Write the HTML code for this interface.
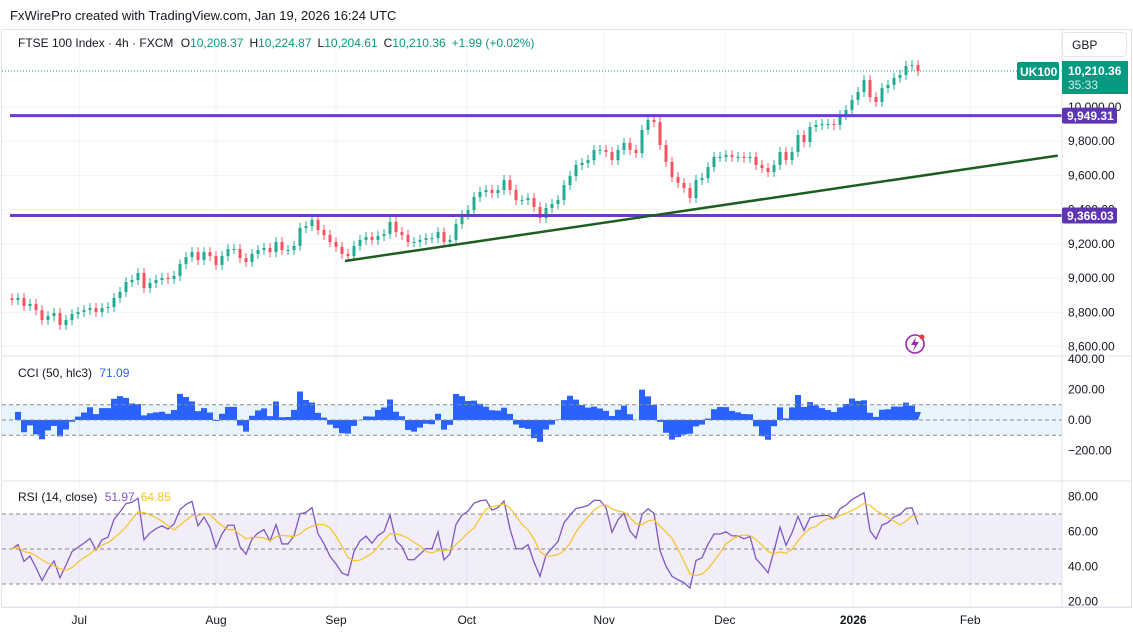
<!DOCTYPE html>
<html><head><meta charset="utf-8">
<style>
html,body{margin:0;padding:0;background:#fff;}
body{width:1133px;height:635px;overflow:hidden;font-family:"Liberation Sans",sans-serif;}
svg text{font-family:"Liberation Sans",sans-serif;}
</style></head>
<body>
<svg id="chart" width="1133" height="635" xmlns="http://www.w3.org/2000/svg">
  <text x="10" y="20" font-size="13" fill="#131722">FxWirePro created with TradingView.com, Jan 19, 2026 16:24 UTC</text>
  <rect x="1.5" y="29.5" width="1130" height="578" fill="none" stroke="#e0e3eb"/>
  <g id="grid"></g>
  <g id="main"></g>
  <g id="cci"></g>
  <g id="rsi"></g>
  <g id="axes"></g>
  <text x="18" y="47" font-size="12" fill="#131722">FTSE 100 Index · 4h · FXCM <tspan dx="4">O</tspan><tspan fill="#089981">10,208.37</tspan><tspan dx="6">H</tspan><tspan fill="#089981">10,224.87</tspan><tspan dx="6">L</tspan><tspan fill="#089981">10,204.61</tspan><tspan dx="6">C</tspan><tspan fill="#089981">10,210.36</tspan><tspan dx="6" fill="#089981">+1.99 (+0.02%)</tspan></text>
  <text x="18" y="377" font-size="12" fill="#131722">CCI (50, hlc3) <tspan dx="4" fill="#2962ff">71.09</tspan></text>
  <text x="18" y="501" font-size="12" fill="#131722">RSI (14, close) <tspan dx="4" fill="#7e57c2">51.97</tspan><tspan dx="6" fill="#f7c325">64.85</tspan></text>
  <rect x="1062.5" y="32.5" width="64" height="24" rx="4" fill="#fff" stroke="#e0e3eb"/>
  <text x="1072" y="49" font-size="12" fill="#131722">GBP</text>
  <g>
    <circle cx="915" cy="344" r="9" fill="none" stroke="#9c27b0" stroke-width="1.6"/>
    <path d="M916 337 L911 345 L915 345 L913 351 L919 342 L915 342 Z" fill="#9c27b0"/>
    <circle cx="922" cy="337" r="2.5" fill="#f23645"/>
  </g>
</svg>
<script>
var closes=[8872,8884,8837,8849,8813,8755,8778,8796,8726,8755,8790,8802,8813,8825,8802,8825,8831,8884,8919,8977,8989,9030,8942,8971,8989,9001,8995,9012,9082,9123,9152,9106,9152,9129,9077,9129,9170,9170,9117,9094,9141,9164,9176,9152,9211,9164,9164,9188,9293,9304,9340,9281,9252,9211,9182,9141,9129,9188,9223,9240,9223,9246,9258,9328,9269,9252,9211,9211,9223,9234,9234,9269,9211,9223,9316,9369,9398,9474,9503,9515,9497,9515,9573,9515,9456,9456,9468,9416,9351,9410,9433,9456,9544,9597,9661,9673,9690,9749,9749,9737,9690,9749,9790,9749,9731,9866,9924,9912,9778,9679,9591,9556,9527,9468,9573,9585,9649,9708,9708,9719,9708,9708,9702,9708,9661,9643,9620,9661,9737,9690,9737,9836,9795,9883,9895,9901,9901,9895,9953,9982,10041,10088,10158,10058,10029,10111,10129,10170,10187,10240,10245,10210.36];
var priceTicks=[10000,9800,9600,9400,9200,9000,8800,8600];
var cciTicks=[400,200,0,-200];
var rsiTicks=[80,60,40,20];
var monthLabels=["Jul","Aug","Sep","Oct","Nov","Dec","2026","Feb"];
var monthIndex=[11.2,34,54,75.8,98.7,118.8,140.2,159.7];
var levels=[9949.31,9366.03];
var trendPrices=[9100,9716];
var trendIdx=[55.5,174.3];

var NS="http://www.w3.org/2000/svg";
function mk(tag,attrs,parent){var e=document.createElementNS(NS,tag);for(var k in attrs)e.setAttribute(k,attrs[k]);parent.appendChild(e);return e;}
function xS(i){return 12+i*6;}
function yP(p){return 107+(10000-p)*0.1711;}
function yC(v){return 420-v*0.153;}
function yR(v){return 549-(v-50)*1.75;}
var grid=document.getElementById('grid'),main=document.getElementById('main'),cciG=document.getElementById('cci'),rsiG=document.getElementById('rsi'),axes=document.getElementById('axes');

monthLabels.forEach(function(m,k){
  var x=xS(monthIndex[k]);
  var l=mk('line',{x1:x,x2:x,y1:30,y2:607,stroke:'#f0f3fa'},grid);
  
  
  var t=mk('text',{x:x,y:624,'font-size':12,fill:'#131722','text-anchor':'middle','font-weight':m==='2026'?'bold':'normal'},axes);
  t.textContent=m;
  
  
});
priceTicks.forEach(function(p){
  var y=yP(p);
  var l=mk('line',{x1:2,x2:1062,y1:y,y2:y,stroke:'#f0f3fa'},grid);
  
  
  var t=mk('text',{x:1068,y:y+4,'font-size':12,fill:'#131722'},axes);
  t.textContent=p.toLocaleString('en-US',{minimumFractionDigits:2});
  
  
});
[[2,356,1131,356],[2,481,1131,481],[2,607,1131,607],[1062,30,1062,607]].forEach(function(s){
  var l=mk('line',{x1:s[0],y1:s[1],x2:s[2],y2:s[3],stroke:'#e0e3eb'},axes);
  
  
});
var lastC=closes[closes.length-1];
var lastY=yP(lastC);
var dl=mk('line',{x1:2,x2:1062,y1:lastY,y2:lastY,stroke:'#089981','stroke-dasharray':'1 2','stroke-width':1},main);


for(var i=0;i<closes.length;i++){
  var o=i?closes[i-1]:closes[i]+10,c=closes[i],up=c>=o,col=up?'#22ab94':'#f7525f';
  var x=xS(i),yt=yP(Math.max(o,c)),yb=yP(Math.min(o,c));
  var w=mk('line',{x1:x,x2:x,y1:yt-5,y2:yb+5,stroke:col,'stroke-width':1},main);
  
  
  var b=mk('rect',{x:x-1.5,y:yt,width:3,height:Math.max(1,yb-yt),fill:col},main);
  
  
}
levels.forEach(function(p){
  var y=yP(p);
  var l=mk('line',{x1:10,x2:1062,y1:y,y2:y,stroke:'#6a3cc8','stroke-width':3},main);
  
  
  var r=mk('rect',{x:1062,y:y-8,width:55,height:16,fill:'#5e35b1',rx:2},axes);
  
  
  var t=mk('text',{x:1067,y:y+4.5,'font-size':12,fill:'#fff','font-weight':'bold'},axes);
  t.textContent=p.toLocaleString('en-US',{minimumFractionDigits:2});
  
  
});
var tl=mk('line',{x1:xS(trendIdx[0]),y1:yP(trendPrices[0]),x2:xS(trendIdx[1]),y2:yP(trendPrices[1]),stroke:'#1b5e20','stroke-width':2.5},main);


var sy=mk('rect',{x:1017,y:lastY-9,width:42,height:18,fill:'#089981',rx:2},axes);


var st=mk('text',{x:1020,y:lastY+5,'font-size':12,fill:'#fff','font-weight':'bold'},axes);
st.textContent='UK100';


var pr=mk('rect',{x:1062,y:lastY-10,width:66,height:33,fill:'#089981'},axes);


var pt=mk('text',{x:1068,y:lastY+4,'font-size':12,fill:'#fff','font-weight':'bold'},axes);
pt.textContent=lastC.toLocaleString('en-US',{minimumFractionDigits:2,maximumFractionDigits:2});


var ct=mk('text',{x:1068,y:lastY+18,'font-size':12,fill:'#d0f0e8'},axes);
ct.textContent='35:33';



var cciP=10,cci=[];
for(var i=0;i<closes.length;i++){
  var s=Math.max(0,i-cciP+1),win=closes.slice(s,i+1),m=win.reduce(function(a,b){return a+b;},0)/win.length;
  var md=win.reduce(function(a,b){return a+Math.abs(b-m);},0)/win.length||1;
  cci.push((closes[i]-m)/(0.015*md)*0.8);
}
var band=mk('rect',{x:2,y:yC(100),width:1060,height:yC(-100)-yC(100),fill:'rgba(33,150,243,0.1)'},cciG);


var d='M'+xS(0)+' '+yC(0);
cci.forEach(function(v,i){var c=Math.max(-330,Math.min(330,v));d+=' L'+(xS(i)-3)+' '+yC(c)+' L'+(xS(i)+3)+' '+yC(c);});
d+=' L'+xS(cci.length-1)+' '+yC(0)+' Z';
var ca=mk('path',{d:d,fill:'#2962ff'},cciG);


[100,0,-100].forEach(function(v){
  var l=mk('line',{x1:2,x2:1062,y1:yC(v),y2:yC(v),stroke:'#888','stroke-dasharray':'4 3'},cciG);
  
  
});
cciTicks.forEach(function(v){
  var t=mk('text',{x:1068,y:yC(v)+4,'font-size':12,fill:'#131722'},axes);
  t.textContent=(v<0?'\u2212'+Math.abs(v):v).toString()+'.00';
  
  
});

var rsiP=6,rsi=[],ag=20,al=20;
for(var i=0;i<closes.length;i++){
  var ch=i?closes[i]-closes[i-1]:0;
  ag=(ag*(rsiP-1)+Math.max(ch,0))/rsiP;al=(al*(rsiP-1)+Math.max(-ch,0))/rsiP;
  var r=al===0?80:100-100/(1+ag/al);
  rsi.push(50+(r-50)*0.75);
}
var ma=rsi.map(function(v,i){var s=Math.max(0,i-5),w=rsi.slice(s,i+1);return w.reduce(function(a,b){return a+b;},0)/w.length;});
var rb=mk('rect',{x:2,y:yR(70),width:1060,height:yR(30)-yR(70),fill:'rgba(126,87,194,0.1)'},rsiG);


[70,50,30].forEach(function(v){
  var l=mk('line',{x1:2,x2:1062,y1:yR(v),y2:yR(v),stroke:'#888','stroke-dasharray':'4 3'},rsiG);
  
  
});
var rl=mk('polyline',{points:rsi.map(function(v,i){return xS(i)+','+yR(v);}).join(' '),fill:'none',stroke:'#7e57c2','stroke-width':1.3},rsiG);


var ml=mk('polyline',{points:ma.map(function(v,i){return xS(i)+','+yR(v);}).join(' '),fill:'none',stroke:'#f7c325','stroke-width':1.2},rsiG);


rsiTicks.forEach(function(v){
  var t=mk('text',{x:1068,y:yR(v)+4,'font-size':12,fill:'#131722'},axes);
  t.textContent=v+'.00';
  
  
});
</script>
</body></html>
